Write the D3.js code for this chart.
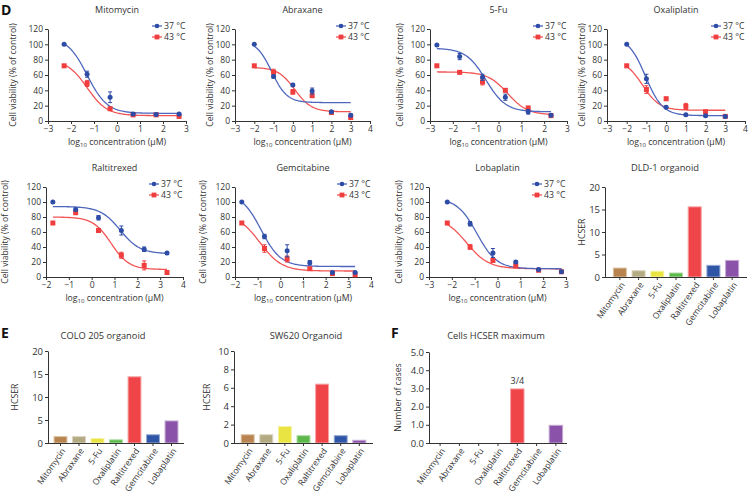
<!DOCTYPE html>
<html><head><meta charset="utf-8">
<script src="https://cdn.jsdelivr.net/npm/d3@7"></script>
<style>
body{margin:0;background:#fff}
text{font-family:"Open Sans","Noto Sans",sans-serif;fill:#333}
</style>
</head><body>
<svg id="c" width="750" height="493"></svg>
<script>
// ---------- DATA ----------
const drugs = ["Mitomycin","Abraxane","5-Fu","Oxaliplatin","Raltitrexed","Gemcitabine","Lobaplatin"];
const seriesNames = ["37 °C","43 °C"];
// log10 concentration (µM) per drug
const logDose = [
  [-2.3,-1.3,-0.3,0.7,1.7,2.7],
  [-2,-1,0,1,2,3],
  [-2.7,-1.7,-0.7,0.3,1.3,2.3],
  [-2,-1,0,1,2,3],
  [-1.7,-0.7,0.3,1.3,2.3,3.3],
  [-1.7,-0.7,0.3,1.3,2.3,3.3],
  [-2.2,-1.2,-0.2,0.8,1.8,2.8]
];
// cell viability (% of control) at 37 °C
const via37 = [
  [100,61,31,9,8.5,9],
  [100,58,47,39,12,7.5],
  [99,84,57,31,12,7.5],
  [100,55,18,8,7,6],
  [100,90,79,62,37,32],
  [100,54,35,19,6,6],
  [100,71,32,20,10,7]
];
const err37 = [
  [0,4,7,1.5,1.5,1.5],
  [0,2,2,4,1.5,2],
  [0,4,4,4,3,1.5],
  [0,6,1.5,1,1,1],
  [0,2,3,6,3,1.5],
  [0,3,8,3,1.5,1.5],
  [0,3,6,1.5,1.5,1]
];
// cell viability (% of control) at 43 °C
const via43 = [
  [72,49,16,8,8,6],
  [72,63.5,38,33,11,4.5],
  [72,63.5,51,40,17,7],
  [72,41,29,19,12,6],
  [72,86,62,29,15.5,6],
  [72,38,24,11,4.5,3],
  [72,40,22,15,9,7]
];
const err43 = [
  [0,4,1.5,1,1,1],
  [0,4,3,2,1,1.5],
  [0,2,4,2,2,1],
  [0,5,2,4,2,1],
  [0,3,2,4,6,1],
  [0,5,4,1.5,1,1],
  [0,3,2,2,1,1]
];
// fitted 4-parameter logistic: [top, bottom, logEC50, hill]
const fit37 = [
  [110,10,-1.3,1.0],[105,24,-1.1,1.1],[95,12,-0.55,1.0],[110,7,-1.05,1.0],
  [94,31,1.25,1.0],[112,14,-0.85,1.0],[105,11,-0.9,1.0]
];
const fit43 = [
  [80,7,-1.3,1.0],[70,12,0.1,1.0],[64,8,0.4,1.0],[80,14,-1.2,1.0],
  [80,10,0.85,1.1],[84,8,-0.9,0.9],[80,11,-1.35,0.9]
];
const xDomains = [[-3,3],[-3,4],[-3,3],[-3,4],[-2,4],[-2,4],[-3,3]];
const viabTicks = [0,20,40,60,80,100,120];

// HCSER bar data
const hcserDLD1 = [2.1,1.5,1.4,1.0,15.7,2.7,3.8];
const hcserCOLO205 = [1.5,1.5,1.1,0.8,14.5,1.9,4.9];
const hcserSW620 = [0.95,0.95,1.85,0.85,6.45,0.85,0.35];
const maxCases = [0,0,0,0,3,0,1];
const barColors = ["#b8834f","#b4aa82","#e9e442","#5cb84a","#ef4549","#2f55a6","#8a52a8"];
const barStroke = ["#dcc3a4","#d9d3bf","#f5f2a6","#aedca2","#f7a2a4","#97abd4","#c5a8d4"];

// ---------- DRAW ----------
const svg = d3.select("#c");
const blueLine = "#4e66bd", blueMark = "#2d4ca6", redLine = "#f25454", redMark = "#f03e3e";

const linePanels = [
  {x0:48,x1:186,yTop:29,yBot:121,ylabX:13,titleY:13},
  {x0:235,x1:370,yTop:29,yBot:121,ylabX:210,titleY:13},
  {x0:430,x1:567,yTop:29,yBot:121,ylabX:400,titleY:13},
  {x0:607,x1:745,yTop:29,yBot:121,ylabX:582,titleY:13},
  {x0:46,x1:183,yTop:187,yBot:277,ylabX:5,titleY:171},
  {x0:235,x1:371,yTop:187,yBot:277,ylabX:203,titleY:171},
  {x0:429,x1:566,yTop:187,yBot:277,ylabX:399,titleY:171}
];

function logistic(p, x){ return p[1] + (p[0]-p[1])/(1+Math.pow(10,(x-p[2])*p[3])); }

function styleAxis(g){
  g.selectAll("path,line").attr("stroke","#333").attr("stroke-width",1);
  g.selectAll("text").attr("fill","#444");
}

drugs.forEach((drug,i)=>{
  const P = linePanels[i];
  const x = d3.scaleLinear().domain(xDomains[i]).range([P.x0,P.x1]);
  const y = d3.scaleLinear().domain([0,120]).range([P.yBot,P.yTop]);
  const g = svg.append("g");
  const xt = d3.range(xDomains[i][0], xDomains[i][1]+1);
  g.append("g").attr("transform",`translate(0,${P.yBot})`)
    .call(d3.axisBottom(x).tickValues(xt).tickFormat(d3.format("d")).tickSize(3).tickPadding(2).tickSizeOuter(0))
    .call(a=>a.selectAll("text").attr("font-size",8.5)).call(styleAxis);
  g.append("g").attr("transform",`translate(${P.x0},0)`)
    .call(d3.axisLeft(y).tickValues(viabTicks).tickSize(3).tickPadding(2).tickSizeOuter(0))
    .call(a=>a.selectAll("text").attr("font-size",8.5)).call(styleAxis);
  g.append("text").attr("x",(P.x0+P.x1)/2).attr("y",P.titleY).attr("text-anchor","middle")
    .attr("font-size",9).text(drug);
  g.append("text").attr("transform",`translate(${P.ylabX},${(P.yTop+P.yBot)/2}) rotate(-90)`)
    .attr("text-anchor","middle").attr("dy","0.35em").attr("font-size",8.7).text("Cell viability (% of control)");
  const xl = g.append("text").attr("x",(P.x0+P.x1)/2).attr("y",P.yBot+24).attr("text-anchor","middle").attr("font-size",8.7);
  xl.append("tspan").text("log");
  xl.append("tspan").attr("font-size",6).attr("dy",2).text("10");
  xl.append("tspan").attr("dy",-2).text(" concentration (μM)");

  const xs = logDose[i];
  const sets = [
    {v:via37[i], e:err37[i], f:fit37[i], lc:blueLine, mc:blueMark, shape:"circle"},
    {v:via43[i], e:err43[i], f:fit43[i], lc:redLine, mc:redMark, shape:"square"}
  ];
  [sets[1],sets[0]].forEach(s=>{
    const xsamp = d3.range(0,101).map(k=>xs[0]+(xs[xs.length-1]-xs[0])*k/100);
    g.append("path").datum(xsamp)
      .attr("d",d3.line().x(d=>x(d)).y(d=>y(logistic(s.f,d))))
      .attr("fill","none").attr("stroke",s.lc).attr("stroke-width",1.3);
  });
  [sets[1],sets[0]].forEach(s=>{
    xs.forEach((xv,k)=>{
      const cx = x(xv), cy = y(s.v[k]);
      if(s.e[k]>0){
        const t = y(s.v[k]+s.e[k]), b = y(s.v[k]-s.e[k]);
        g.append("line").attr("x1",cx).attr("x2",cx).attr("y1",t).attr("y2",b).attr("stroke",s.mc).attr("stroke-width",1);
        g.append("line").attr("x1",cx-2).attr("x2",cx+2).attr("y1",t).attr("y2",t).attr("stroke",s.mc).attr("stroke-width",1);
        g.append("line").attr("x1",cx-2).attr("x2",cx+2).attr("y1",b).attr("y2",b).attr("stroke",s.mc).attr("stroke-width",1);
      }
      if(s.shape==="circle") g.append("circle").attr("cx",cx).attr("cy",cy).attr("r",2.5).attr("fill",s.mc);
      else g.append("rect").attr("x",cx-2.5).attr("y",cy-2.5).attr("width",5).attr("height",5).attr("fill",s.mc);
    });
  });
  const ly = [P.yTop-3, P.yTop+8];
  sets.forEach((s,k)=>{
    const lx = P.x1-34;
    g.append("line").attr("x1",lx).attr("x2",lx+10).attr("y1",ly[k]).attr("y2",ly[k]).attr("stroke",s.lc).attr("stroke-width",1.3);
    if(s.shape==="circle") g.append("circle").attr("cx",lx+5).attr("cy",ly[k]).attr("r",2.3).attr("fill",s.mc);
    else g.append("rect").attr("x",lx+2.6).attr("y",ly[k]-2.4).attr("width",4.8).attr("height",4.8).attr("fill",s.mc);
    g.append("text").attr("x",lx+12).attr("y",ly[k]).attr("dy","0.35em").attr("font-size",8.7).text(seriesNames[k]);
  });
});

// ---------- BAR PANELS ----------
const barPanels = [
  {data:hcserDLD1, x0:605,x1:747,yTop:187,yBot:277,max:20,ticks:[0,5,10,15,20],pO:0.42,title:"DLD-1 organoid",titleX:665,titleY:171,ylab:"HCSER",ylabX:582},
  {data:hcserCOLO205, x0:48,x1:184,yTop:351,yBot:443,max:20,ticks:[0,5,10,15,20],pO:0.3,title:"COLO 205 organoid",titleX:103,titleY:339,ylab:"HCSER",ylabX:15},
  {data:hcserSW620, x0:234,x1:373,yTop:351,yBot:443,max:10,ticks:[0,2,4,6,8,10],pO:0.36,title:"SW620 Organoid",titleX:306,titleY:339,ylab:"HCSER",ylabX:207},
  {data:maxCases, x0:429,x1:567,yTop:352,yBot:443,max:5,ticks:[0,1,2,3,4,5],pO:0.2,title:"Cells HCSER maximum",titleX:496,titleY:339,ylab:"Number of cases",ylabX:398,annot:{idx:4,text:"3/4"}}
];
barPanels.forEach(P=>{
  const g = svg.append("g");
  const x = d3.scaleBand().domain(drugs).range([P.x0,P.x1]).paddingInner(0.25).paddingOuter(P.pO);
  const y = d3.scaleLinear().domain([0,P.max]).range([P.yBot,P.yTop]);
  g.selectAll("rect.bar").data(P.data).join("rect")
    .attr("x",(d,i)=>x(drugs[i])+0.5).attr("width",x.bandwidth()-1)
    .attr("y",d=>y(d)+0.5).attr("height",d=>Math.max(0,y(0)-y(d)-0.5))
    .attr("fill",(d,i)=>barColors[i]).attr("stroke",(d,i)=>d>0?barStroke[i]:"none").attr("stroke-width",1);
  g.append("g").attr("transform",`translate(0,${P.yBot})`)
    .call(d3.axisBottom(x).tickSize(3).tickSizeOuter(0).tickPadding(2))
    .call(a=>a.select(".domain").attr("d",`M${P.x0},0.5H${P.x1}`))
    .call(a=>a.selectAll("text").attr("font-size",8.6).attr("text-anchor","end")
      .attr("transform","translate(0,1) rotate(-55)").attr("dx","-0.3em").attr("dy","0.5em").attr("y",4))
    .call(styleAxis);
  g.append("g").attr("transform",`translate(${P.x0},0)`)
    .call(d3.axisLeft(y).tickValues(P.ticks).tickSize(3).tickPadding(2).tickSizeOuter(0))
    .call(a=>a.selectAll("text").attr("font-size",9.5)).call(styleAxis);
  g.append("text").attr("x",P.titleX).attr("y",P.titleY).attr("text-anchor","middle").attr("font-size",9.3).text(P.title);
  g.append("text").attr("transform",`translate(${P.ylabX},${(P.yTop+P.yBot)/2}) rotate(-90)`)
    .attr("text-anchor","middle").attr("dy","0.35em").attr("font-size",8.7).text(P.ylab);
  if(P.annot){
    g.append("text").attr("x",x(drugs[P.annot.idx])+x.bandwidth()/2).attr("y",y(P.data[P.annot.idx])-4)
      .attr("text-anchor","middle").attr("font-size",9).text(P.annot.text);
  }
});

// panel letters
[["D",1,15],["E",1,338],["F",391,338]].forEach(([t,px,py])=>{
  svg.append("text").attr("x",px).attr("y",py).attr("font-size",14).attr("font-weight","bold")
    .style("fill","#111").text(t);
});
</script>
</body></html>
